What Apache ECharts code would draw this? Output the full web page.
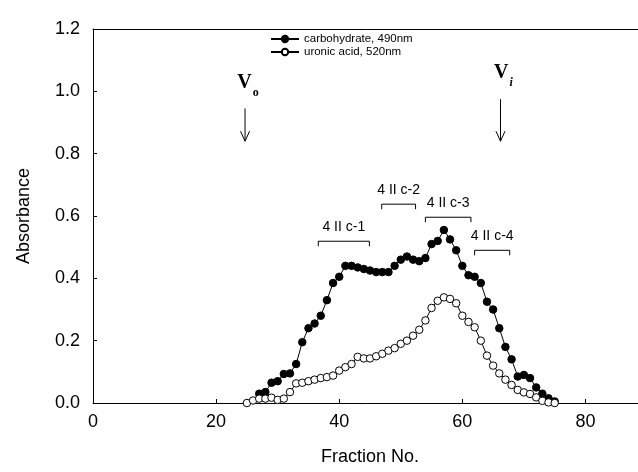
<!DOCTYPE html>
<html>
<head>
<meta charset="utf-8">
<script src="https://cdn.jsdelivr.net/npm/echarts@6/dist/echarts.min.js"></script>
<style>
html,body{margin:0;padding:0;background:#fff;}
#chart{width:638px;height:472px;}
</style>
</head>
<body>
<div id="chart"></div>
<script>
// ---- data ----
const carbFractions = [27,28,29,30,31,32,33,34,35,36,37,38,39,40,41,42,43,44,45,46,47,48,49,50,51,52,53,54,55,56,57,58,59,60,61,62,63,64,65,66,67,68,69,70,71,72,73,74,75];
const carbValues = [0.03,0.035,0.065,0.07,0.093,0.095,0.125,0.195,0.24,0.255,0.28,0.33,0.385,0.405,0.44,0.44,0.435,0.43,0.425,0.42,0.42,0.42,0.44,0.46,0.47,0.46,0.455,0.465,0.51,0.52,0.555,0.525,0.49,0.44,0.41,0.405,0.385,0.325,0.30,0.24,0.18,0.14,0.085,0.09,0.08,0.05,0.03,0.015,0.005];
const uronicFractions = [25,26,27,28,29,30,31,32,33,34,35,36,37,38,39,40,41,42,43,44,45,46,47,48,49,50,51,52,53,54,55,56,57,58,59,60,61,62,63,64,65,66,67,68,69,70,71,72,73,74,75];
const uronicValues = [0.0,0.008,0.014,0.014,0.017,0.01,0.014,0.035,0.063,0.065,0.07,0.075,0.08,0.083,0.088,0.104,0.115,0.125,0.148,0.143,0.143,0.15,0.158,0.168,0.176,0.19,0.2,0.216,0.235,0.265,0.305,0.328,0.339,0.334,0.32,0.28,0.26,0.243,0.2,0.152,0.12,0.095,0.075,0.058,0.042,0.034,0.029,0.018,0.007,0.002,0.0];
const seriesNames = ['carbohydrate, 490nm','uronic acid, 520nm'];
const xTicks = [0,20,40,60,80];
const yTicks = [0.0,0.2,0.4,0.6,0.8,1.0,1.2];

const bracketLabels = ['4 II c-1','4 II c-2','4 II c-3','4 II c-4'];
const bracketStart = [36.6,46.9,54.0,62.0];
const bracketEnd = [44.9,52.4,61.4,67.7];
const bracketLevel = [0.519,0.638,0.596,0.49];

const markerNames = ['o','i'];
const markerX = [24.7,66.2];
const markerTop = [0.945,0.975];
const markerBottom = [0.84,0.84];

// ---- build ----
const carbData = carbFractions.map((f,i)=>[f,carbValues[i]]);
const uronicData = uronicFractions.map((f,i)=>[f,uronicValues[i]]);
const bracketData = bracketLabels.map((l,i)=>[bracketStart[i],bracketEnd[i],bracketLevel[i],l]);
const markerData = markerNames.map((n,i)=>[markerX[i],markerTop[i],markerBottom[i],n]);

const FONT = '"Liberation Sans", Arial, sans-serif';
const SERIF = '"Liberation Serif", "DejaVu Serif", serif';
const chart = echarts.init(document.getElementById('chart'), null, {renderer:'canvas'});

chart.setOption({
  animation:false,
  backgroundColor:'#fff',
  grid:{left:93,right:-9,top:29,bottom:69,show:false,outerBoundsMode:'none',containLabel:false},
  legend:{
    orient:'vertical',left:265,top:28,itemGap:1,itemWidth:28,itemHeight:8,
    textStyle:{fontFamily:FONT,fontSize:11.5,color:'#000'},
    data:seriesNames
  },
  xAxis:[{
    type:'value',min:0,max:90,interval:20,
    name:'Fraction No.',nameLocation:'middle',nameGap:45,
    nameTextStyle:{fontFamily:FONT,fontSize:18,color:'#000'},
    axisLine:{show:true,onZero:false,lineStyle:{color:'#000',width:1}},
    axisTick:{show:true,inside:true,length:4,lineStyle:{color:'#000'}},
    axisLabel:{fontFamily:FONT,fontSize:18,color:'#000',margin:10,
      formatter:v=>xTicks.indexOf(v)>=0?String(v):''},
    splitLine:{show:false}
  },{
    type:'value',min:0,max:90,position:'top',
    axisLine:{show:true,onZero:false,lineStyle:{color:'#000',width:1}},
    axisTick:{show:false},axisLabel:{show:false},splitLine:{show:false}
  }],
  yAxis:{
    type:'value',min:0,max:1.2,interval:0.2,
    name:'Absorbance',nameLocation:'middle',nameGap:60,nameRotate:90,
    nameTextStyle:{fontFamily:FONT,fontSize:18,color:'#000'},
    axisLine:{show:true,onZero:false,lineStyle:{color:'#000',width:1}},
    axisTick:{show:true,inside:true,length:4,lineStyle:{color:'#000'}},
    axisLabel:{fontFamily:FONT,fontSize:18,color:'#000',margin:13,
      formatter:v=>{const t=yTicks.find(k=>Math.abs(k-v)<1e-9);return t===undefined?'':t.toFixed(1);}},
    splitLine:{show:false}
  },
  series:[
    {
      name:seriesNames[0],type:'line',data:carbData,
      symbol:'circle',symbolSize:7.5,showAllSymbol:true,
      lineStyle:{color:'#000',width:1},
      itemStyle:{color:'#000',borderColor:'#000',borderWidth:1},
      z:3
    },
    {
      name:seriesNames[1],type:'line',data:uronicData,
      symbol:'circle',symbolSize:7.5,showAllSymbol:true,
      lineStyle:{color:'#000',width:1},
      itemStyle:{color:'#fff',borderColor:'#000',borderWidth:1},
      z:4
    },
    {
      type:'custom',data:bracketData,encode:{x:[0,1],y:2},silent:true,z:5,
      renderItem:(params,api)=>{
        const p1=api.coord([api.value(0),api.value(2)]);
        const p2=api.coord([api.value(1),api.value(2)]);
        const lbl=bracketData[params.dataIndex][3];
        return {type:'group',children:[
          {type:'polyline',shape:{points:[[p1[0],p1[1]+5],[p1[0],p1[1]],[p2[0],p1[1]],[p2[0],p1[1]+5]]},
           style:{stroke:'#000',lineWidth:1,fill:null}},
          {type:'text',x:(p1[0]+p2[0])/2,y:p1[1]-7,
           style:{text:lbl,fontFamily:FONT,fontSize:14,fill:'#000',align:'center',verticalAlign:'bottom'}}
        ]};
      }
    },
    {
      type:'custom',data:markerData,encode:{x:0,y:[1,2]},silent:true,z:5,
      renderItem:(params,api)=>{
        const t=api.coord([api.value(0),api.value(1)]);
        const b=api.coord([api.value(0),api.value(2)]);
        const sub=markerData[params.dataIndex][3];
        return {type:'group',children:[
          {type:'line',shape:{x1:t[0],y1:t[1],x2:b[0],y2:b[1]},style:{stroke:'#000',lineWidth:1}},
          {type:'polyline',shape:{points:[[b[0]-4.5,b[1]-10],[b[0],b[1]],[b[0]+4.5,b[1]-10]]},style:{stroke:'#000',lineWidth:1,fill:null}},
          {type:'text',x:t[0]+3,y:t[1]-16,
           style:{text:'{v|V}{s|'+sub+'}',align:'center',verticalAlign:'bottom',
             rich:{v:{fontFamily:SERIF,fontWeight:'bold',fontSize:20,fill:'#000'},
                   s:{fontFamily:SERIF,fontWeight:'bold',fontStyle:sub==='i'?'italic':'normal',fontSize:12,fill:'#000',verticalAlign:'bottom',padding:[0,0,-6,1]}}}}
        ]};
      }
    }
  ]
});
</script>
</body>
</html>
